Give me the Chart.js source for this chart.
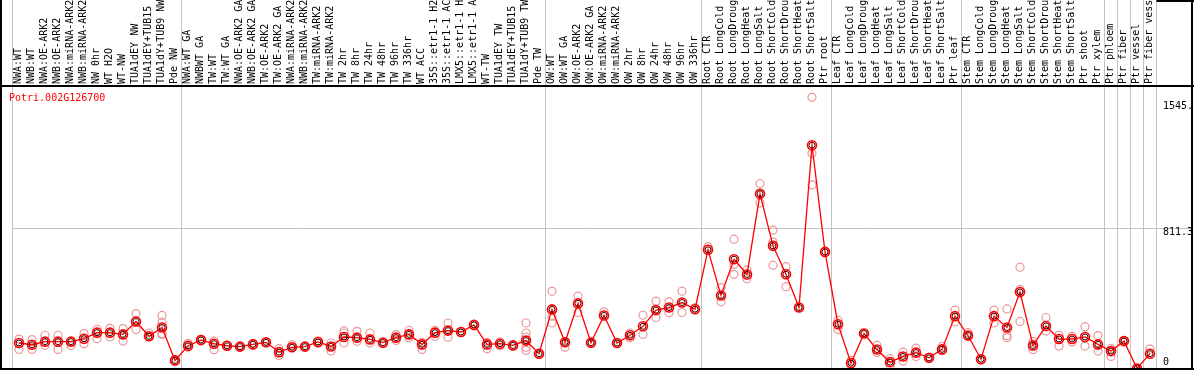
<!DOCTYPE html>
<html>
<head>
<meta charset="utf-8">
<script src="https://cdn.jsdelivr.net/npm/chart.js@4.4.0/dist/chart.umd.min.js"></script>
<style>
    html, body { margin: 0; padding: 0; background: #fff; }
    #chart_wrap { width: 1194px; height: 370px; }
</style>
</head>
<body>
<div id="chart_wrap"><canvas id="expression_chart" width="1194" height="370"></canvas></div>
<script>
const gene_id = 'Potri.002G126700';

const sample_labels = [
    'NWA:WT', 'NWB:WT', 'NWA:OE-ARK2', 'NWB:OE-ARK2', 'NWA:miRNA-ARK2', 'NWB:miRNA-ARK2',
    'NW 0hr', 'WT H2O', 'WT-NW', 'TUA1dEY NW', 'TUA1dEY+TUB15 NW', 'TUA1dY+TUB9 NW', 'Pde NW',
    'NWA:WT GA', 'NWBWT GA', 'TW:WT', 'TW:WT GA', 'NWA:OE-ARK2 GA', 'NWB:OE-ARK2 GA',
    'TW:OE-ARK2', 'TW:OE-ARK2 GA', 'NWA:miRNA-ARK2 GA', 'NWB:miRNA-ARK2 GA', 'TW:miRNA-ARK2',
    'TW:miRNA-ARK2 GA', 'TW 2hr', 'TW 8hr', 'TW 24hr', 'TW 48hr', 'TW 96hr', 'TW 336hr',
    'WT ACC', '35S::etr1-1 H2O', '35S::etr1-1 ACC', 'LMX5::etr1-1 H2O', 'LMX5::etr1-1 ACC',
    'WT-TW', 'TUA1dEY TW', 'TUA1dEY+TUB15 TW', 'TUA1dY+TUB9 TW', 'Pde TW',
    'OW:WT', 'OW:WT GA', 'OW:OE-ARK2', 'OW:OE-ARK2 GA', 'OW:miRNA-ARK2', 'OW:miRNA-ARK2 GA',
    'OW 2hr', 'OW 8hr', 'OW 24hr', 'OW 48hr', 'OW 96hr', 'OW 336hr',
    'Root CTR', 'Root LongCold', 'Root LongDrought', 'Root LongHeat', 'Root LongSalt',
    'Root ShortCold', 'Root ShortDrought', 'Root ShortHeat', 'Root ShortSalt', 'Ptr root',
    'Leaf CTR', 'Leaf LongCold', 'Leaf LongDrought', 'Leaf LongHeat', 'Leaf LongSalt',
    'Leaf ShortCold', 'Leaf ShortDrought', 'Leaf ShortHeat', 'Leaf ShortSalt', 'Ptr leaf',
    'Stem CTR', 'Stem LongCold', 'Stem LongDrought', 'Stem LongHeat', 'Stem LongSalt',
    'Stem ShortCold', 'Stem ShortDrought', 'Stem ShortHeat', 'Stem ShortSalt', 'Ptr shoot',
    'Ptr xylem', 'Ptr phloem', 'Ptr fiber', 'Ptr vessel', 'Ptr fiber vessel'
];

// mean expression per sample
const mean_values = [
    148, 138, 156, 156, 156, 173, 208, 208, 198, 273,
    187, 238, 47, 132, 165, 144, 132, 127, 140, 152,
    95, 123, 127, 154, 128, 183, 179, 169, 150, 179,
    198, 140, 208, 220, 212, 253, 140, 144, 134, 162,
    86, 343, 152, 378, 150, 308, 148, 193, 245, 339,
    354, 383, 344, 689, 424, 634, 546, 1014, 712, 547,
    354, 1296, 677, 257, 31, 203, 110, 37, 70, 92,
    62, 111, 304, 191, 54, 304, 238, 444, 134, 247,
    171, 171, 183, 140, 101, 159, 0, 86
];

// single replicates
const rep_1 = [
    171, 168, 193, 193, 134, 203, 228, 233, 232, 319,
    206, 308, 47, 146, 169, 159, 134, 128, 146, 152,
    115, 138, 128, 159, 148, 218, 216, 206, 150, 197,
    222, 152, 222, 264, 212, 253, 152, 154, 134, 264,
    86, 448, 124, 420, 150, 329, 148, 206, 309, 391,
    387, 449, 352, 708, 469, 751, 572, 1074, 803, 591,
    354, 1574, 677, 280, 47, 203, 134, 57, 95, 118,
    62, 128, 339, 208, 54, 339, 346, 588, 158, 296,
    194, 187, 243, 191, 115, 159, 0, 113
];
const rep_2 = [
    111, 111, 134, 111, 158, 144, 173, 183, 159, 226,
    187, 270, null, 124, null, 109, null, null, null, null,
    76, 123, null, 146, 101, 206, 158, 148, null, 163,
    179, 111, 187, 181, null, null, 115, 132, null, 206,
    null, 304, 152, 325, null, null, null, 179, 198, 296,
    323, 325, null, null, 387, 605, 521, 961, 734, 475,
    null, 1249, null, 226, null, null, 93, 18, 43, 70,
    null, 105, 270, null, null, 264, 191, 459, 109, 218,
    130, 154, 130, 101, 70, null, null, null
];
const rep_3 = [
    null, null, null, null, null, null, null, null, null, null,
    null, 203, null, null, null, null, null, null, null, null,
    null, null, null, null, null, 148, null, null, null, null,
    null, null, null, null, null, null, null, null, null, 183,
    null, 264, null, null, null, null, null, null, null, null,
    null, null, null, null, null, 547, null, null, 600, null,
    null, 1066, null, null, null, null, null, null, null, null,
    null, null, null, null, null, null, 179, 273, null, null,
    null, null, null, null, null, null, null, null
];
const rep_4 = [
    null, null, null, null, null, null, null, null, null, null,
    null, 198, null, null, null, null, null, null, null, null,
    null, null, null, null, null, null, null, null, null, null,
    null, null, null, null, null, null, null, null, null, 124,
    null, null, null, null, null, null, null, null, null, null,
    null, null, null, null, null, null, null, null, null, null,
    null, null, null, null, null, null, null, null, null, null,
    null, null, null, null, null, null, null, null, null, null,
    null, null, null, null, null, null, null, null
];
const rep_5 = [
    null, null, null, null, null, null, null, null, null, null,
    null, null, null, null, null, null, null, null, null, null,
    null, null, null, null, null, null, null, null, null, null,
    null, null, null, null, null, null, null, null, null, 105,
    null, null, null, null, null, null, null, null, null, null,
    null, null, null, null, null, null, null, null, null, null,
    null, null, null, null, null, null, null, null, null, null,
    null, null, null, null, null, null, null, null, null, null,
    null, null, null, null, null, null, null, null
];

const y_tick_values = [0, 811.3, 1545];
const y_tick_labels = ['0', '811.3', '1545.'];
const y_max = 1640;
// index of the first sample of each block (88 = right end)
const group_edges = [0, 13, 41, 53, 63, 73, 84, 85, 86, 87, 88];

const MONO = "'DejaVu Sans Mono', 'Liberation Mono', monospace";
const PINK = 'rgb(236, 150, 150)';
const RED = 'rgb(255, 0, 0)';

const frame_plugin = {
    id: 'frame_plugin',
    afterDraw: (chart) => {
        const ctx = chart.ctx;
        const area = chart.chartArea;
        const w = chart.width;
        const h = chart.height;
        ctx.save();
        ctx.strokeStyle = '#000';
        ctx.lineWidth = 2;
        ctx.beginPath();
        ctx.moveTo(1, 0);
        ctx.lineTo(1, h);
        ctx.moveTo(w - 2, 0);
        ctx.lineTo(w - 2, h);
        ctx.moveTo(0, area.top);
        ctx.lineTo(w, area.top);
        ctx.moveTo(0, h - 1);
        ctx.lineTo(w, h - 1);
        ctx.moveTo(area.right, 1);
        ctx.lineTo(w, 1);
        ctx.stroke();

        ctx.fillStyle = RED;
        ctx.font = '10px ' + MONO;
        ctx.textBaseline = 'alphabetic';
        ctx.textAlign = 'left';
        ctx.fillText(gene_id, 9, area.top + 15);
        ctx.restore();
    }
};

function rep_dataset(values) {
    return {
        label: 'replicate',
        data: values,
        showLine: false,
        pointRadius: 4,
        pointBorderWidth: 1.2,
        pointBorderColor: PINK,
        pointBackgroundColor: 'rgba(0,0,0,0)',
        order: 3
    };
}

const config = {
    type: 'line',
    data: {
        labels: sample_labels,
        datasets: [
            {
                label: 'mean core',
                data: mean_values,
                showLine: false,
                pointRadius: 3,
                pointBorderWidth: 1,
                pointBorderColor: 'rgb(60, 0, 0)',
                pointBackgroundColor: 'rgba(0,0,0,0)',
                order: 1
            },
            {
                label: 'mean',
                data: mean_values,
                borderColor: RED,
                borderWidth: 1.3,
                pointRadius: 4.5,
                pointBorderWidth: 1.6,
                pointBorderColor: RED,
                pointBackgroundColor: 'rgba(0,0,0,0)',
                tension: 0,
                order: 2
            },
            rep_dataset(rep_1),
            rep_dataset(rep_2),
            rep_dataset(rep_3),
            rep_dataset(rep_4),
            rep_dataset(rep_5)
        ]
    },
    options: {
        responsive: false,
        animation: false,
        devicePixelRatio: 1,
        layout: {
            autoPadding: false,
            padding: { left: 12.5, right: 0, top: 0, bottom: 1.5 }
        },
        plugins: {
            legend: { display: false },
            title: { display: false },
            tooltip: { enabled: false }
        },
        scales: {
            x: {
                type: 'category',
                position: 'top',
                offset: true,
                border: { display: false },
                grid: {
                    offset: true,
                    drawOnChartArea: true,
                    tickLength: 86,
                    lineWidth: 1,
                    color: (c) => {
                        const idx = (c.index === undefined) ? 88 : c.index;
                        return group_edges.includes(idx) ? 'rgb(195,195,195)' : 'rgba(0,0,0,0)';
                    }
                },
                ticks: {
                    autoSkip: false,
                    minRotation: 90,
                    maxRotation: 90,
                    padding: -84,
                    labelOffset: 11,
                    color: '#000',
                    font: { family: MONO, size: 10, lineHeight: '12px' }
                },
                afterFit: (scale) => {
                    scale.height = 86;
                    scale.paddingLeft = 0;
                    scale.paddingRight = 0;
                }
            },
            y: {
                position: 'right',
                min: 0,
                max: y_max,
                border: { display: false },
                afterBuildTicks: (scale) => {
                    scale.ticks = y_tick_values.map(v => ({ value: v }));
                },
                grid: {
                    tickLength: 36,
                    lineWidth: 1,
                    color: (c) => (c.tick && c.tick.value === 811.3) ? 'rgb(195,195,195)' : 'rgba(0,0,0,0)'
                },
                ticks: {
                    padding: -29.5,
                    color: '#000',
                    font: (c) => ({
                        family: MONO,
                        size: 10,
                        lineHeight: (c.tick && c.tick.value === 0) ? '12px' : '8px'
                    }),
                    callback: function (value, index) {
                        const text = y_tick_labels[index];
                        return value === 0 ? [text, ''] : ['', text];
                    }
                },
                afterFit: (scale) => {
                    scale.width = 37.5;
                    scale.paddingTop = 0;
                    scale.paddingBottom = 0;
                }
            }
        }
    },
    plugins: [frame_plugin]
};

Chart.defaults.color = '#000';
const ctx = document.getElementById('expression_chart').getContext('2d');
new Chart(ctx, config);
</script>
</body>
</html>
